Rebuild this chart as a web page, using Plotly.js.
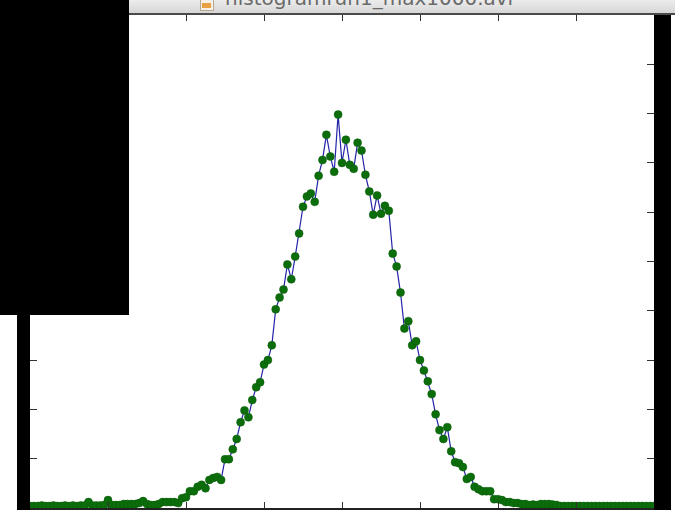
<!DOCTYPE html>
<html>
<head>
<meta charset="utf-8">
<script src="https://cdn.plot.ly/plotly-3.0.1.min.js"></script>
<style>
  html, body { margin: 0; padding: 0; background: #ffffff; }
  #wrap { position: relative; width: 675px; height: 510px; overflow: hidden; background: #ffffff; }
  #chart { position: absolute; left: 0; top: 0; width: 675px; height: 510px; }
  .blk { position: absolute; background: #000000; }
  #titlebar { position: absolute; left: 129px; top: 0; width: 546px; height: 13px;
              background: linear-gradient(#ececec, #d6d6d6); border-bottom: 2px solid #4a4a4a; overflow: hidden; }
  #titletext { position: absolute; left: 96px; top: -14px; font-family: "DejaVu Sans", sans-serif;
               font-size: 20px; color: #6a6a6a; white-space: nowrap; }
  #icon { position: absolute; left: 71px; top: -4px; width: 12px; height: 13px; background: #f4f0e8;
          border: 1px solid #b8a890; }
  #icon2 { position: absolute; left: 73px; top: 3px; width: 9px; height: 5px; background: #e8a040; }
</style>
</head>
<body>
<div id="wrap">
  <div id="chart"></div>
  <div id="titlebar">
    <div id="icon"></div><div id="icon2"></div>
    <div id="titletext">histogramrun1_max1000.avi</div>
  </div>
  <div class="blk" style="left:0;top:0;width:129px;height:315px;"></div>
  <div class="blk" style="left:17px;top:315px;width:13px;height:195px;"></div>
  <div class="blk" style="left:654px;top:15px;width:17px;height:495px;"></div>
</div>
<script>
// histogram bins (intensity index) and counts
const bins = [];
for (let i = 0; i <= 160; i++) bins.push(i);
const counts = [
  4, 4, 4, 5, 4, 4, 5, 4, 4, 5,      // 0-9
  4, 5, 4, 5, 5, 12, 5, 5, 5, 6,     // 10-19
  16, 6, 6, 6, 8, 8, 8, 8, 10, 14,   // 20-29
  8, 6, 6, 8, 12, 12, 12, 12, 10, 20, // 30-39
  22, 34, 34, 43, 47, 40, 57, 61, 63, 57, // 40-49
  99, 99, 119, 140, 174, 198, 184, 219, 245, 255, // 50-59
  291, 300, 330, 403, 427, 443, 494, 464, 510, 557, // 60-69
  611, 632, 638, 621, 674, 706, 757, 713, 682, 798, // 70-79
  700, 747, 696, 688, 741, 725, 676, 642, 595, 634, // 80-89
  597, 613, 603, 516, 490, 437, 364, 379, 330, 338, // 90-99
  300, 279, 257, 231, 190, 158, 140, 164, 115, 93,  // 100-109
  91, 83, 59, 63, 43, 38, 34, 34, 34, 18,           // 110-119
  18, 16, 12, 12, 10, 10, 8, 8, 6, 7,               // 120-129
  6, 8, 8, 8, 7, 6, 4, 4, 4, 4,                     // 130-139
  4, 4, 4, 4, 4, 4, 4, 4, 4, 4,                     // 140-149
  4, 4, 4, 4, 4, 4, 4, 4, 4, 4, 4                   // 150-160
];
const xTicks = [0, 20, 40, 60, 80, 100, 120, 140, 160];
const yTicks = [0, 100, 200, 300, 400, 500, 600, 700, 800, 900, 1000];

const trace = {
  x: bins, y: counts, type: 'scatter', mode: 'lines+markers',
  line: { color: '#2424a8', width: 1.2 },
  marker: { color: '#0b6e0b', size: 8, line: { color: '#0a5a0a', width: 0.5 } },
  hoverinfo: 'none', cliponaxis: true
};

const axisBase = {
  showgrid: false, zeroline: false, showticklabels: false,
  ticks: 'inside', ticklen: 6, tickwidth: 1, tickcolor: '#333333',
  showline: true, linecolor: '#9a9a9a', linewidth: 1, mirror: 'ticks',
  tickmode: 'array'
};

const layout = {
  width: 675, height: 510,
  margin: { l: 30, r: 21, t: 15, b: 2, pad: 0 },
  paper_bgcolor: '#ffffff', plot_bgcolor: '#ffffff',
  showlegend: false,
  xaxis: Object.assign({}, axisBase, { range: [0, 160], tickvals: xTicks, linecolor: '#222222', linewidth: 2 }),
  yaxis: Object.assign({}, axisBase, { range: [0, 1000], tickvals: yTicks, ticklen: 7 })
};

Plotly.newPlot('chart', [trace], layout, { staticPlot: true, displayModeBar: false });
</script>
</body>
</html>
